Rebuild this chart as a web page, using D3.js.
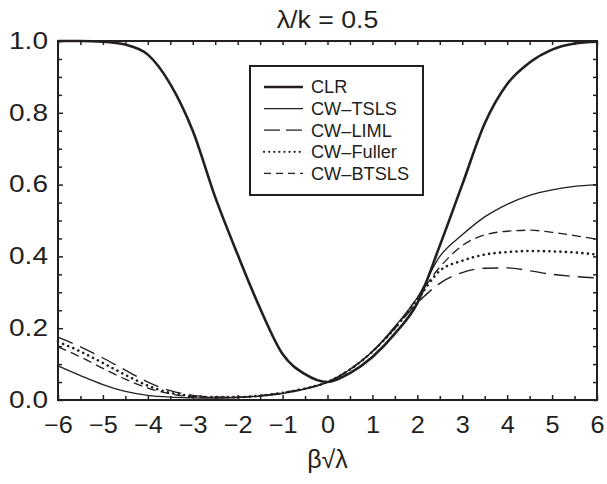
<!DOCTYPE html>
<html>
<head>
<meta charset="utf-8">
<script src="https://cdn.jsdelivr.net/npm/d3@7"></script>
<style>
	body { margin: 0; background: #fff; }
	text { font-family: "Liberation Sans", Arial, sans-serif; fill: #231f20; }
	.wide { transform-box: fill-box; }
</style>
</head>
<body>
<div id="container"></div>
<script>
// Chart dimensions and margins
const width = 607;
const height = 484;
const marginTop = 41;
const marginRight = 10;
const marginBottom = 84;
const marginLeft = 58;

// Data
const betaGrid = [-6, -5.5, -5, -4.5, -4, -3.5, -3, -2.5, -2, -1.5, -1, -0.5, 0, 0.5, 1, 1.5, 2, 2.5, 3, 3.5, 4, 4.5, 5, 5.5, 6];
const clr    = [1.0, 1.0, 0.998, 0.99, 0.962, 0.88, 0.75, 0.565, 0.405, 0.255, 0.128, 0.072, 0.05, 0.075, 0.12, 0.185, 0.27, 0.43, 0.6, 0.77, 0.88, 0.94, 0.976, 0.993, 0.998];
const tsls   = [0.095, 0.068, 0.043, 0.024, 0.013, 0.008, 0.006, 0.005, 0.007, 0.011, 0.018, 0.03, 0.05, 0.085, 0.135, 0.205, 0.285, 0.40, 0.46, 0.51, 0.545, 0.57, 0.585, 0.595, 0.60];
const liml   = [0.175, 0.148, 0.117, 0.083, 0.05, 0.026, 0.013, 0.008, 0.008, 0.012, 0.02, 0.032, 0.05, 0.085, 0.135, 0.2, 0.27, 0.325, 0.355, 0.367, 0.368, 0.36, 0.35, 0.344, 0.34];
const fuller = [0.162, 0.135, 0.103, 0.07, 0.04, 0.02, 0.011, 0.008, 0.008, 0.012, 0.02, 0.032, 0.05, 0.085, 0.135, 0.2, 0.28, 0.36, 0.388, 0.405, 0.412, 0.415, 0.414, 0.411, 0.405];
const btsls  = [0.148, 0.12, 0.088, 0.058, 0.033, 0.017, 0.009, 0.007, 0.008, 0.012, 0.02, 0.032, 0.05, 0.085, 0.135, 0.2, 0.285, 0.37, 0.43, 0.46, 0.47, 0.473, 0.467, 0.458, 0.448];

const seriesNames = ["CLR", "CW\u2013TSLS", "CW\u2013LIML", "CW\u2013Fuller", "CW\u2013BTSLS"];
const seriesValues = [clr, tsls, liml, fuller, btsls];
const xTicks = [-6, -5, -4, -3, -2, -1, 0, 1, 2, 3, 4, 5, 6];
const xMinorTicks = [-5.5, -4.5, -3.5, -2.5, -1.5, -0.5, 0.5, 1.5, 2.5, 3.5, 4.5, 5.5];
const yTicks = [0, 0.2, 0.4, 0.6, 0.8, 1.0];
const yMinorTicks = [0.05, 0.1, 0.15, 0.25, 0.3, 0.35, 0.45, 0.5, 0.55, 0.65, 0.7, 0.75, 0.85, 0.9, 0.95];

// line styles per series
const styles = [
	{width: 2.6, dash: null, cap: "butt"},
	{width: 1.3, dash: null, cap: "butt"},
	{width: 1.4, dash: "16,8", cap: "butt"},
	{width: 2.6, dash: "0.1,5.4", cap: "round"},
	{width: 1.3, dash: "9,5", cap: "butt"}
];

const x = d3.scaleLinear()
	.domain([-6, 6])
	.range([marginLeft, width - marginRight]);

const y = d3.scaleLinear()
	.domain([0, 1])
	.range([height - marginBottom, marginTop]);

const svg = d3.select("#container").append("svg")
	.attr("width", width)
	.attr("height", height)
	.style("display", "block");

// the printed glyphs are a bit wider than Liberation Sans
const widen = function(sel, k, origin) {
	sel.attr("class", "wide")
		.style("transform-origin", origin)
		.style("transform", `scaleX(${k})`);
}

// Axes with inward ticks on all four sides
const axisFont = 23;

svg.append("g")
	.attr("transform", `translate(0,${y(0)})`)
	.call(d3.axisBottom(x).tickValues(xTicks).tickSize(-5).tickPadding(17))
	.call(g => g.select(".domain").remove())
	.call(g => g.selectAll("text")
		.style("font-size", axisFont + "px")
		.style("font-family", "Liberation Sans, Arial, sans-serif")
		.attr("fill", "#231f20")
		.call(widen, 1.1, "center"));

svg.append("g")
	.attr("transform", `translate(0,${y(0)})`)
	.call(d3.axisBottom(x).tickValues(xMinorTicks).tickSize(-4).tickFormat(""))
	.call(g => g.select(".domain").remove());

svg.append("g")
	.attr("transform", `translate(0,${y(1)})`)
	.call(d3.axisTop(x).tickValues(xTicks.concat(xMinorTicks)).tickSize(-4).tickFormat(""))
	.call(g => g.select(".domain").remove());

svg.append("g")
	.attr("transform", `translate(${x(-6)},0)`)
	.call(d3.axisLeft(y).tickValues(yTicks).tickSize(-5).tickPadding(10).tickFormat(d3.format(".1f")))
	.call(g => g.select(".domain").remove())
	.call(g => g.selectAll("text")
		.style("font-size", axisFont + "px")
		.style("font-family", "Liberation Sans, Arial, sans-serif")
		.attr("fill", "#231f20")
		.call(widen, 1.22, "right center"));

svg.append("g")
	.attr("transform", `translate(${x(-6)},0)`)
	.call(d3.axisLeft(y).tickValues(yMinorTicks).tickSize(-4).tickFormat(""))
	.call(g => g.select(".domain").remove());

svg.append("g")
	.attr("transform", `translate(${x(6)},0)`)
	.call(d3.axisRight(y).tickValues(yTicks.concat(yMinorTicks)).tickSize(-4).tickFormat(""))
	.call(g => g.select(".domain").remove());

svg.selectAll(".tick line").attr("stroke", "#231f20").attr("stroke-width", 1.5);

// Curves
const line = d3.line()
	.x((d, i) => x(betaGrid[i]))
	.y(d => y(d))
	.curve(d3.curveMonotoneX);

svg.append("g")
	.selectAll("path")
	.data(seriesValues)
	.join("path")
		.attr("fill", "none")
		.attr("stroke", "#231f20")
		.attr("stroke-width", (d, i) => styles[i].width)
		.attr("stroke-dasharray", (d, i) => styles[i].dash)
		.attr("stroke-linecap", (d, i) => styles[i].cap)
		.attr("d", line);

// Frame
svg.append("rect")
	.attr("x", x(-6))
	.attr("y", y(1))
	.attr("width", x(6) - x(-6))
	.attr("height", y(0) - y(1))
	.attr("fill", "none")
	.attr("stroke", "#231f20")
	.attr("stroke-width", 2);

// Title and x label
svg.append("text")
	.attr("x", (x(-6) + x(6)) / 2)
	.attr("y", 28)
	.attr("text-anchor", "middle")
	.style("font-size", "23px")
	.text("\u03bb/k = 0.5")
	.call(widen, 1.16, "center");

svg.append("text")
	.attr("x", x(0))
	.attr("y", 468)
	.attr("text-anchor", "middle")
	.style("font-size", "25px")
	.text("\u03b2\u221a\u03bb");

// Legend
const legend = svg.append("g");
legend.append("rect")
	.attr("x", 250)
	.attr("y", 66)
	.attr("width", 173)
	.attr("height", 129)
	.attr("fill", "#fff")
	.attr("stroke", "#231f20")
	.attr("stroke-width", 2);

const rows = legend.selectAll("g")
	.data(seriesNames)
	.join("g")
		.attr("transform", (d, i) => `translate(0,${87 + i * 21.6})`);

rows.append("line")
	.attr("x1", 264)
	.attr("x2", 303)
	.attr("stroke", "#231f20")
	.attr("stroke-width", (d, i) => i == 0 ? 2.6 : (i == 3 ? 2.2 : 1.3))
	.attr("stroke-dasharray", (d, i) => i == 2 ? "16,6" : (i == 3 ? "0.1,5" : (i == 4 ? "7,5" : null)))
	.attr("stroke-linecap", (d, i) => i == 3 ? "round" : "butt");

rows.append("text")
	.attr("x", 311)
	.attr("dy", "0.36em")
	.style("font-size", "17.5px")
	.text(d => d)
	.call(widen, 1.04, "left center");
</script>
</body>
</html>
